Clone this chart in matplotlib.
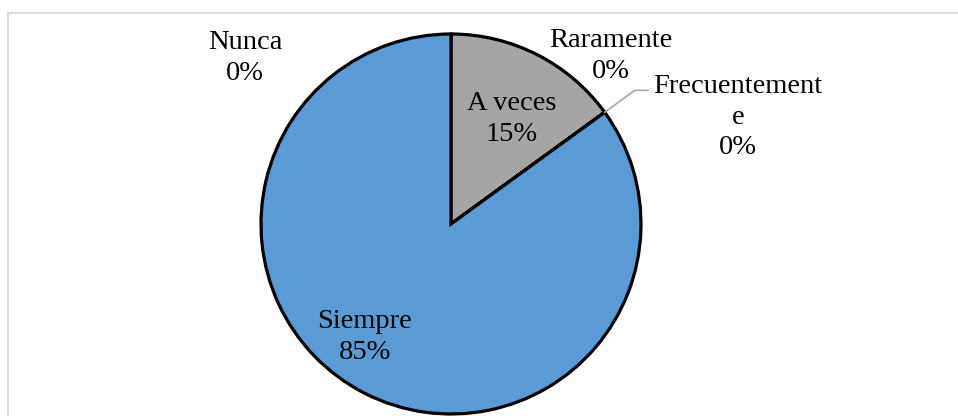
import matplotlib.pyplot as plt
import numpy as np

# Respuestas (orden horario desde arriba)
labels = ['Nunca', 'A veces', 'Raramente', 'Frecuentemente', 'Siempre']
values = [0, 15, 0, 0, 85]
colors = ['#ED7D31', '#A5A5A5', '#FFC000', '#4472C4', '#5B9BD5']
label_text = ['Nunca\n0%', 'A veces\n15%', 'Raramente\n0%', 'Frecuentement\ne\n0%', 'Siempre\n85%']
# posición de cada etiqueta (pixeles, origen arriba-izquierda)
label_pos = [(245, 58), (512, 119), (611, 56), (738, 117), (365, 337)]

W, H = 958, 416
fig = plt.figure(figsize=(W / 100, H / 100), dpi=100)
ax = fig.add_axes([0, 0, 1, 1])
ax.set_aspect('equal')

cx, cy, r = 451, H - 224, 190
wedges, _ = ax.pie(values, colors=colors, startangle=90, counterclock=False,
                   center=(cx, cy), radius=r, frame=True,
                   wedgeprops=dict(edgecolor='black', linewidth=2.3))
ax.set_xlim(0, W)
ax.set_ylim(0, H)
ax.axis('off')

for txt, (px, py) in zip(label_text, label_pos):
    ax.text(px, H - py, txt, ha='center', va='center', fontsize=20.5,
            family='Liberation Serif', linespacing=1.28)

# línea guía de "Frecuentemente"
w = wedges[3]
ang = np.deg2rad(w.theta1)
x0, y0 = cx + r * np.cos(ang), cy + r * np.sin(ang)
ax.plot([x0, x0 + 30, x0 + 43], [y0, y0 + 22, y0 + 22], color='#A6A6A6', lw=1.2)

# marco del gráfico
ax.plot([8.5, 8.5, W + 5], [-5, H - 12.5, H - 12.5], color='#D9D9D9', lw=1.6,
        clip_on=False)

fig.savefig('out.png', dpi=100)
